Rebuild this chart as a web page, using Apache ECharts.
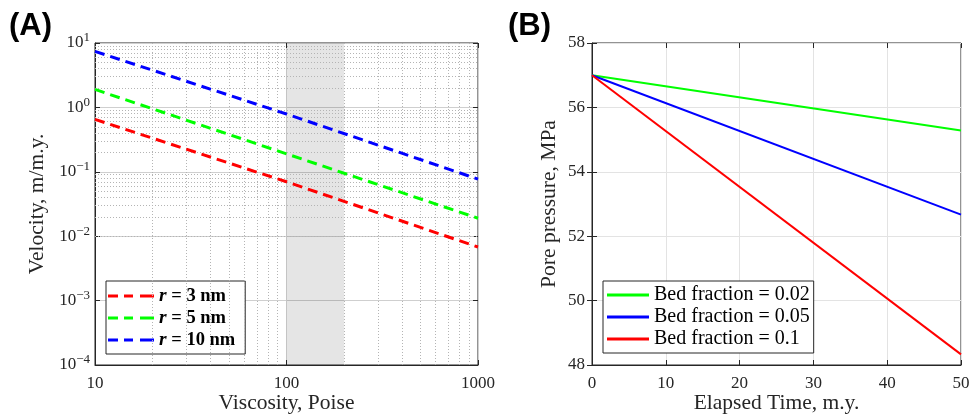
<!DOCTYPE html>
<html>
<head>
<meta charset="utf-8">
<script src="https://cdn.jsdelivr.net/npm/echarts@6/dist/echarts.min.js"></script>
<style>
  html, body { margin: 0; padding: 0; background: #fff; }
  #chart { width: 971px; height: 415px; }
</style>
</head>
<body>
<div id="chart"></div>
<script>
// Panel A: settling velocity vs. viscosity for three pore radii
const viscosity = [10, 100, 1000];
const velR3 = [0.65, 0.070, 0.0068];
const velR5 = [1.9, 0.19, 0.019];
const velR10 = [7.4, 0.79, 0.077];
const shadedViscosity = [100, 200];

// Panel B: pore pressure decline for three bed fractions
const elapsedTime = [0, 50];
const pBed002 = [57, 55.28];
const pBed005 = [57, 52.67];
const pBed01 = [57, 48.33];

const seriesNamesA = ['r3', 'r5', 'r10'];
const legendTextA = { r3: '3 nm', r5: '5 nm', r10: '10 nm' };
const seriesNamesB = ['Bed fraction = 0.02', 'Bed fraction = 0.05', 'Bed fraction = 0.1'];

const SERIF = '"Liberation Serif", "DejaVu Serif", serif';
const TXT = '#262626';
const NAME_SIZE = 21.5;

// legend keys: three short dashes for panel A, a solid bar for panel B
const DASH_ICON = 'path://M0,0h10v3h-10z M16,0h9v3h-9z M32,0h14v3h-14z';
const SOLID_ICON = 'path://M0,0h42v3h-42z';

function pairs(xs, ys) { return xs.map((x, i) => [x, ys[i]]); }

// minor grid values for the log axes (2..9 within each decade)
function minorLogValues(lo, hi) {
  const out = [];
  for (let d = lo; d < hi; d++) {
    for (let m = 2; m <= 9; m++) out.push(m * Math.pow(10, d));
  }
  return out;
}
const minorX = minorLogValues(1, 3);
const minorY = minorLogValues(-4, 1);

function supLabel(v) {
  const e = Math.round(Math.log10(v));
  const s = e < 0 ? '\u2212' + (-e) : String(e);
  return '{b|10}{e|' + s + '}';
}

const chart = echarts.init(document.getElementById('chart'));

const dashA = { type: [10, 6], width: 3 };

const option = {
  animation: false,
  backgroundColor: '#fff',
  textStyle: { fontFamily: SERIF },
  graphic: [
    { type: 'text', left: 9, top: 11, style: { text: '(A)', font: 'bold 31px "Liberation Sans", Arial, sans-serif', fill: '#000' } },
    { type: 'text', left: 508, top: 11, style: { text: '(B)', font: 'bold 31px "Liberation Sans", Arial, sans-serif', fill: '#000' } }
  ],
  grid: [
    { left: 95, top: 43, width: 383, height: 322, outerBoundsMode: 'none', containLabel: false, show: true, borderColor: TXT, borderWidth: 1, backgroundColor: 'transparent' },
    { left: 592, top: 43, width: 369, height: 322, outerBoundsMode: 'none', containLabel: false, show: true, borderColor: TXT, borderWidth: 1, backgroundColor: 'transparent' }
  ],
  xAxis: [
    {
      gridIndex: 0, type: 'log', logBase: 10, min: 10, max: 1000,
      name: 'Viscosity, Poise', nameLocation: 'middle', nameGap: 27, nameMoveOverlap: false,
      nameTextStyle: { fontFamily: SERIF, fontSize: NAME_SIZE, color: TXT },
      axisLine: { show: true, lineStyle: { color: TXT } },
      axisTick: { inside: true, length: 5, lineStyle: { color: TXT } },
      axisLabel: { margin: 10, fontFamily: SERIF, fontSize: 17, color: TXT, formatter: v => String(Math.round(v)) },
      splitLine: { show: true, lineStyle: { color: '#cfcfcf', width: 1 } }
    },
    {
      gridIndex: 0, type: 'log', logBase: 10, min: 10, max: 1000, position: 'top',
      axisLine: { show: false }, axisLabel: { show: false },
      axisTick: { inside: true, length: 5, lineStyle: { color: TXT } },
      splitLine: { show: false }
    },
    {
      gridIndex: 1, type: 'value', min: 0, max: 50, interval: 10,
      name: 'Elapsed Time, m.y.', nameLocation: 'middle', nameGap: 27, nameMoveOverlap: false,
      nameTextStyle: { fontFamily: SERIF, fontSize: NAME_SIZE, color: TXT },
      axisLine: { show: true, lineStyle: { color: TXT } },
      axisTick: { inside: true, length: 5, lineStyle: { color: TXT } },
      axisLabel: { margin: 10, fontFamily: SERIF, fontSize: 17, color: TXT },
      splitLine: { show: true, lineStyle: { color: '#e3e3e3', width: 1 } }
    },
    {
      gridIndex: 1, type: 'value', min: 0, max: 50, interval: 10, position: 'top',
      axisLine: { show: false }, axisLabel: { show: false },
      axisTick: { inside: true, length: 5, lineStyle: { color: TXT } },
      splitLine: { show: false }
    }
  ],
  yAxis: [
    {
      gridIndex: 0, type: 'log', logBase: 10, min: 1e-4, max: 10,
      name: 'Velocity, m/m.y.', nameLocation: 'middle', nameGap: 47, nameMoveOverlap: false,
      nameTextStyle: { fontFamily: SERIF, fontSize: NAME_SIZE, color: TXT },
      axisLine: { show: true, lineStyle: { color: TXT } },
      axisTick: { inside: true, length: 5, lineStyle: { color: TXT } },
      axisLabel: {
        margin: 5, color: TXT, formatter: supLabel,
        rich: {
          b: { fontFamily: SERIF, fontSize: 17, color: TXT },
          e: { fontFamily: SERIF, fontSize: 13, color: TXT, padding: [0, 0, 10, 0] }
        }
      },
      splitLine: { show: true, lineStyle: { color: '#cfcfcf', width: 1 } }
    },
    {
      gridIndex: 0, type: 'log', logBase: 10, min: 1e-4, max: 10, position: 'right',
      axisLine: { show: false }, axisLabel: { show: false },
      axisTick: { inside: true, length: 5, lineStyle: { color: TXT } },
      splitLine: { show: false }
    },
    {
      gridIndex: 1, type: 'value', min: 48, max: 58, interval: 2,
      name: 'Pore pressure, MPa', nameLocation: 'middle', nameGap: 32, nameMoveOverlap: false,
      nameTextStyle: { fontFamily: SERIF, fontSize: NAME_SIZE, color: TXT },
      axisLine: { show: true, lineStyle: { color: TXT } },
      axisTick: { inside: true, length: 5, lineStyle: { color: TXT } },
      axisLabel: { margin: 7, fontFamily: SERIF, fontSize: 17, color: TXT },
      splitLine: { show: true, lineStyle: { color: '#e3e3e3', width: 1 } }
    },
    {
      gridIndex: 1, type: 'value', min: 48, max: 58, interval: 2, position: 'right',
      axisLine: { show: false }, axisLabel: { show: false },
      axisTick: { inside: true, length: 5, lineStyle: { color: TXT } },
      splitLine: { show: false }
    }
  ],
  legend: [
    {
      data: seriesNamesA,
      left: 106, top: 281, orient: 'vertical',
      backgroundColor: '#fff', borderColor: TXT, borderWidth: 1,
      padding: [5, 10, 4, 2], itemGap: 2, itemWidth: 46, itemHeight: 3, itemTextGap: 1,
      icon: DASH_ICON,
      formatter: name => '{r|r}{t| = ' + legendTextA[name] + '}',
      textStyle: {
        lineHeight: 20,
        rich: {
          r: { fontFamily: SERIF, fontSize: 19.5, fontStyle: 'italic', fontWeight: 'bold', color: '#000' },
          t: { fontFamily: SERIF, fontSize: 18.5, fontWeight: 'bold', color: '#000' }
        }
      }
    },
    {
      data: seriesNamesB,
      left: 603, top: 281, orient: 'vertical',
      backgroundColor: '#fff', borderColor: TXT, borderWidth: 1,
      padding: [4, 4, 4, 4], itemGap: 2, itemWidth: 42, itemHeight: 3, itemTextGap: 5,
      icon: SOLID_ICON,
      textStyle: { fontFamily: SERIF, fontSize: 20, color: '#000', lineHeight: 20 }
    }
  ],
  series: [
    {
      name: 'grid-minor-A', type: 'line', xAxisIndex: 0, yAxisIndex: 0, data: [], silent: true,
      markArea: {
        silent: true,
        itemStyle: { color: 'rgba(0,0,0,0.1)' },
        data: [[{ xAxis: shadedViscosity[0] }, { xAxis: shadedViscosity[1] }]]
      },
      markLine: {
        silent: true, symbol: 'none', label: { show: false },
        lineStyle: { color: '#b4b4b4', type: [1, 2], width: 1 },
        data: minorX.map(v => ({ xAxis: v })).concat(minorY.map(v => ({ yAxis: v })))
      }
    },
    { name: 'r3', type: 'line', xAxisIndex: 0, yAxisIndex: 0, symbol: 'none', color: '#ff0000', lineStyle: Object.assign({ color: '#ff0000' }, dashA), data: pairs(viscosity, velR3), z: 5 },
    { name: 'r5', type: 'line', xAxisIndex: 0, yAxisIndex: 0, symbol: 'none', color: '#00ff00', lineStyle: Object.assign({ color: '#00ff00' }, dashA), data: pairs(viscosity, velR5), z: 5 },
    { name: 'r10', type: 'line', xAxisIndex: 0, yAxisIndex: 0, symbol: 'none', color: '#0000ff', lineStyle: Object.assign({ color: '#0000ff' }, dashA), data: pairs(viscosity, velR10), z: 5 },
    { name: seriesNamesB[0], type: 'line', xAxisIndex: 2, yAxisIndex: 2, symbol: 'none', color: '#00ff00', lineStyle: { color: '#00ff00', width: 2 }, data: pairs(elapsedTime, pBed002), z: 5 },
    { name: seriesNamesB[1], type: 'line', xAxisIndex: 2, yAxisIndex: 2, symbol: 'none', color: '#0000ff', lineStyle: { color: '#0000ff', width: 2 }, data: pairs(elapsedTime, pBed005), z: 5 },
    { name: seriesNamesB[2], type: 'line', xAxisIndex: 2, yAxisIndex: 2, symbol: 'none', color: '#ff0000', lineStyle: { color: '#ff0000', width: 2 }, data: pairs(elapsedTime, pBed01), z: 5 }
  ]
};

chart.setOption(option);
</script>
</body>
</html>
